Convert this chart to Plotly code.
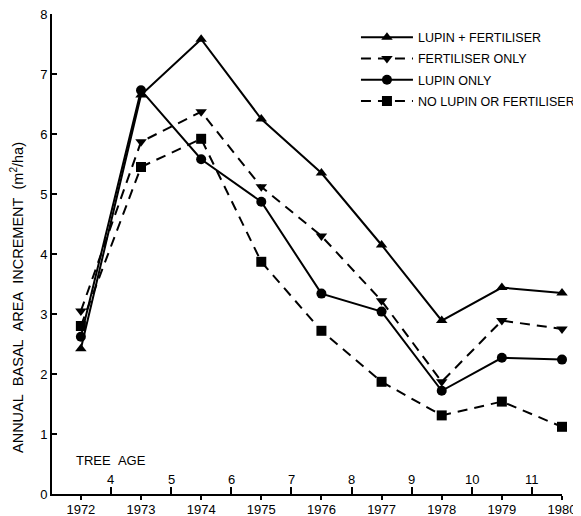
import plotly.graph_objects as go

years = [1972, 1973, 1974, 1975, 1976, 1977, 1978, 1979, 1980]
lupin_fert = [2.42, 6.65, 7.58, 6.25, 5.35, 4.15, 2.89, 3.44, 3.35]
fert_only = [3.05, 5.87, 6.37, 5.12, 4.30, 3.22, 1.87, 2.89, 2.75]
lupin_only = [2.62, 6.73, 5.58, 4.87, 3.34, 3.04, 1.72, 2.27, 2.24]
no_lupin_fert = [2.80, 5.45, 5.92, 3.87, 2.72, 1.87, 1.31, 1.54, 1.12]
series_names = ["LUPIN + FERTILISER", "FERTILISER ONLY", "LUPIN ONLY", "NO LUPIN OR FERTILISER"]
tree_age_pos = [1972.5, 1973.5, 1974.5, 1975.5, 1976.5, 1977.5, 1978.5, 1979.5]
tree_ages = ["4", "5", "6", "7", "8", "9", "10", "11"]
y_title = "ANNUAL&nbsp;&nbsp;BASAL&nbsp;&nbsp;AREA&nbsp;&nbsp;INCREMENT&nbsp;&nbsp;(m<sup>2</sup>/ha)"

FONT = "Liberation Sans, Arial, Helvetica, sans-serif"
DASH = "10px,7px"

fig = go.Figure()
specs = [
    (lupin_fert, "triangle-up", "solid"),
    (fert_only, "triangle-down", DASH),
    (lupin_only, "circle", "solid"),
    (no_lupin_fert, "square", DASH),
]
for (vals, sym, dash), name in zip(specs, series_names):
    fig.add_trace(go.Scatter(
        x=years, y=vals, name=name, legendgroup=name, mode="lines+markers",
        line=dict(color="black", width=2, dash=dash),
        marker=dict(symbol=sym, size=10, color="black"),
        cliponaxis=False,
    ))

for p, a in zip(tree_age_pos, tree_ages):
    fig.add_annotation(x=p, y=0.09, xref="x", yref="y", text=a, showarrow=False,
                       yanchor="bottom", font=dict(size=13, color="black", family=FONT))
fig.add_annotation(x=1971.88, y=0.40, xref="x", yref="y", text="TREE&nbsp;&nbsp;AGE", showarrow=False,
                   xanchor="left", yanchor="bottom", font=dict(size=13, color="black", family=FONT))
fig.add_annotation(x=-0.069, y=3.28, xref="paper", yref="y", text=y_title, showarrow=False,
                   textangle=-90, xanchor="center", yanchor="middle",
                   font=dict(size=14.5, color="black", family=FONT))

fig.update_layout(
    width=600, height=508,
    margin=dict(l=44, r=46, t=6, b=22),
    plot_bgcolor="white", paper_bgcolor="white",
    font=dict(family=FONT, size=13, color="black"),
    showlegend=True,
    legend=dict(x=0.596, y=0.982, xanchor="left", yanchor="top",
                bgcolor="rgba(0,0,0,0)", font=dict(size=12.5, family=FONT),
                itemwidth=52, tracegroupgap=2, traceorder="grouped"),
    xaxis=dict(range=[1971.52, 1980.0], tickvals=years, ticktext=[str(y) for y in years],
               ticks="outside", ticklen=4, tickwidth=2, tickcolor="black",
               showline=True, linecolor="black", linewidth=2, showgrid=False,
               zeroline=False, automargin=False, tickfont=dict(size=13),
               ticklabelstandoff=-2, ticklabeloverflow="allow",
               minor=dict(tickmode="array", tickvals=tree_age_pos, ticks="inside",
                          ticklen=7, tickwidth=2, tickcolor="black", showgrid=False)),
    yaxis=dict(range=[0, 8], tickvals=list(range(0, 9)), ticks="inside", ticklen=5,
               tickwidth=2, tickcolor="black", showline=True, linecolor="black",
               linewidth=2, showgrid=False, zeroline=False, automargin=False,
               tickfont=dict(size=13), ticklabeloverflow="allow"),
)

fig.write_html("out.html")
